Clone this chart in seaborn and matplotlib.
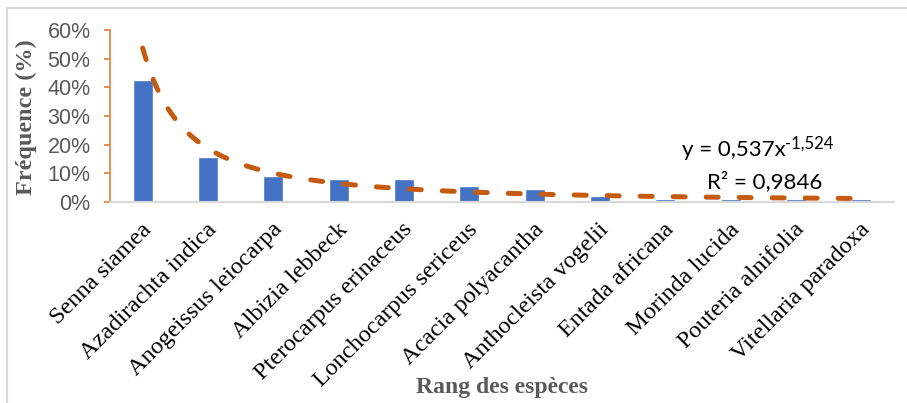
import numpy as np
import pandas as pd
import matplotlib
matplotlib.use('Agg')
import matplotlib.pyplot as plt
import matplotlib.transforms as mtransforms
from matplotlib.ticker import PercentFormatter, MultipleLocator
import seaborn as sns


# Data
species = ['Senna siamea', 'Azadirachta indica', 'Anogeissus leiocarpa',
           'Albizia lebbeck', 'Pterocarpus erinaceus', 'Lonchocarpus sericeus',
           'Acacia polyacantha', 'Anthocleista vogelii', 'Entada africana',
           'Morinda lucida', 'Pouteria alnifolia', 'Vitellaria paradoxa']
frequency = [0.427, 0.157, 0.091, 0.079, 0.079, 0.056,
             0.045, 0.022, 0.011, 0.011, 0.011, 0.011]

# Power trendline shown on the chart: y = a * rank^b
trend_a = 0.537
trend_b = -1.524
trend_r2 = 0.9846

df = pd.DataFrame({'species': species, 'frequence': frequency})

sns.set_style('white')
plt.rcParams['font.family'] = ['Liberation Sans', 'DejaVu Sans']

W, H = 907, 403
fig = plt.figure(figsize=(W / 100, H / 100), dpi=100)
ax = fig.add_axes([110 / W, 1 - 202 / H, 784 / W, 172 / H])

sns.barplot(data=df, x='species', y='frequence', color='#4472C4',
            width=0.31, saturation=1, ax=ax)

# trendline drawn from the displayed equation
rank = np.linspace(1, len(species), 200)
ax.plot(rank - 1, trend_a * rank ** trend_b, color='#C55A11', lw=3.6,
        dashes=(2.4, 4.2), dash_capstyle='round')

ax.set_xlim(-0.5, len(species) - 0.5)
ax.set_ylim(0, 0.6)
ax.yaxis.set_major_locator(MultipleLocator(0.1))
ax.yaxis.set_major_formatter(PercentFormatter(1, decimals=0))

for s in ['top', 'right']:
    ax.spines[s].set_visible(False)
ax.spines['left'].set_color('#E07B39')
ax.spines['left'].set_linewidth(1.2)
ax.spines['bottom'].set_color('#D9D9D9')
ax.spines['bottom'].set_linewidth(1.5)
ax.tick_params(axis='y', which='major', left=True, length=4, width=1.2,
               color='#E07B39', labelsize=15.5, labelcolor='#595959', pad=10)
ax.tick_params(axis='x', bottom=False, pad=14)

ax.set_xlabel('')
ax.set_ylabel('')
ax.set_xticks(range(len(species)))
ax.set_xticklabels(species, rotation=45, ha='right', va='center',
                   rotation_mode='anchor', family='Liberation Serif',
                   fontsize=17.5, color='black')
offset = mtransforms.ScaledTranslation(4 / 72, 0, fig.dpi_scale_trans)
for lab in ax.get_xticklabels():
    lab.set_transform(lab.get_transform() + offset)

fig.text(26 / W, 1 - 117 / H, 'Fréquence (%)', rotation=90, ha='center',
         va='center', family='Liberation Serif', fontweight='bold',
         fontsize=17.5, color='#595959')
fig.text(502 / W, 1 - 388 / H, 'Rang des espèces', ha='center', va='center',
         family='Liberation Serif', fontweight='bold', fontsize=17,
         color='#595959')

# equation of the trendline, exponent drawn as a separate smaller text
eq = fig.text(682 / W, 1 - 156 / H, 'y = 0,537x', ha='left', va='baseline',
              family='Lato', fontsize=16, color='black')
fig.canvas.draw()
bb = eq.get_window_extent()
fig.text((bb.x1 - 1) / W, 1 - 149 / H, '-1,524', ha='left', va='baseline',
         family='Lato', fontsize=12, color='black')
fig.text(765 / W, 1 - 182 / H, 'R² = 0,9846', ha='center', va='center',
         family='Lato', fontsize=16, color='black')

# light border of the chart area
fig.add_artist(plt.Rectangle((7 / W, -0.1), 1.2, 1 - 8 / H + 0.1,
                             transform=fig.transFigure, fill=False,
                             edgecolor='#D9D9D9', lw=1.5))

fig.savefig('out.png', dpi=100)
